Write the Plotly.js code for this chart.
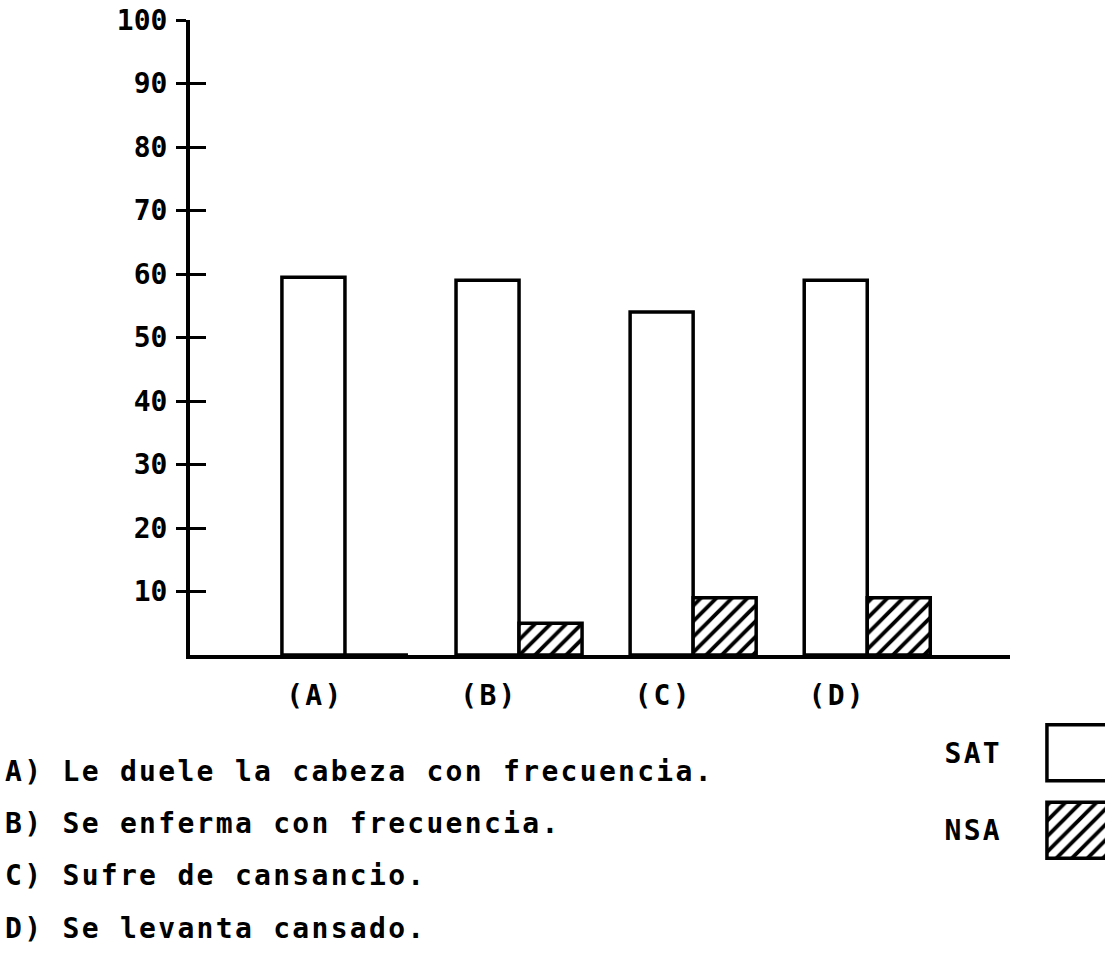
<!DOCTYPE html>
<html>
<head>
<meta charset="utf-8">
<script src="https://cdn.plot.ly/plotly-3.0.1.min.js"></script>
<style>
  html, body { margin: 0; padding: 0; background: #fff; }
  #chart { width: 1105px; height: 976px; }
  .annotation-text, .xtick text, .y3tick text { letter-spacing: 2.3px; }
  .ytick text { letter-spacing: 0px; }
</style>
</head>
<body>
<div id="chart"></div>
<script>
// ---- data ----
const categories = ['A', 'B', 'C', 'D'];
const categoryLabels = ['(A)', '(B)', '(C)', '(D)'];
const satValues = [59.5, 59, 54, 59];
const nsaValues = [0, 5, 9, 9];
const seriesNames = ['SAT', 'NSA'];
const descriptions = [
  'A) Le duele la cabeza con frecuencia.',
  'B) Se enferma con frecuencia.',
  'C) Sufre de cansancio.',
  'D) Se levanta cansado.'
];
const yTickVals = [10, 20, 30, 40, 50, 60, 70, 80, 90, 100];

// ---- styles ----
const FONT = 'DejaVu Sans Mono';
const fontBase = { family: FONT, size: 28, color: '#000', weight: 'bold' };
const outline = { color: '#000', width: 3.5 };

const traces = [
  {
    type: 'bar', name: seriesNames[0], x: categories, y: satValues,
    marker: { color: '#fff', line: outline },
    showlegend: false, hoverinfo: 'skip'
  },
  {
    type: 'bar', name: seriesNames[1], x: categories, y: nsaValues,
    marker: { color: '#fff', line: outline,
      pattern: { shape: '/', fgcolor: '#000', bgcolor: '#fff', size: 11, solidity: 0.35 } },
    showlegend: false, hoverinfo: 'skip'
  },
  // carrier for the inner half of the crossing y ticks
  { type: 'scatter', x: [], y: [], xaxis: 'x', yaxis: 'y2', showlegend: false, hoverinfo: 'skip' },
  // hand-made legend swatches
  {
    type: 'bar', orientation: 'h', y: seriesNames, x: [1, 1], xaxis: 'x3', yaxis: 'y3',
    marker: { color: '#fff', line: outline,
      pattern: { shape: ['', '/'], fgcolor: '#000', bgcolor: '#fff', size: 11, solidity: 0.35 } },
    showlegend: false, hoverinfo: 'skip'
  }
];

const W = 1105, H = 976, ML = 190, MR = 0, MT = 20, MB = 0;
const PW = W - ML - MR, PH = H - MT - MB;
const px2x = p => (p - ML) / PW;
const px2y = p => (H - MB - p) / PH;

const annotations = descriptions.map((t, i) => ({
  text: t, xref: 'paper', yref: 'paper',
  x: px2x(3), y: px2y([771, 823, 875, 928][i]),
  xanchor: 'left', yanchor: 'middle', showarrow: false, font: fontBase
}));

const layout = {
  width: W, height: H,
  margin: { l: ML, r: MR, t: MT, b: MB, pad: 0 },
  paper_bgcolor: '#fff', plot_bgcolor: '#fff',
  barmode: 'group', bargap: 0.276, bargroupgap: 0,
  showlegend: false,
  font: fontBase,
  xaxis: {
    domain: [0, px2x(1010)], anchor: 'y',
    type: 'category', range: [-0.89, 3.82],
    tickvals: categories, ticktext: categoryLabels,
    ticks: '', ticklabelshift: -30, ticklabelstandoff: 12,
    showline: true, linecolor: '#000', linewidth: 4,
    showgrid: false, zeroline: false, tickfont: fontBase, fixedrange: true
  },
  yaxis: {
    domain: [px2y(655), 1], anchor: 'x',
    range: [0, 100], tickvals: yTickVals,
    ticks: 'outside', ticklen: 10, tickwidth: 3, tickcolor: '#000',
    ticklabelstandoff: 3,
    showline: true, linecolor: '#000', linewidth: 4,
    showgrid: false, zeroline: false, tickfont: fontBase, fixedrange: true
  },
  yaxis2: {
    overlaying: 'y', anchor: 'x', side: 'left',
    range: [0, 100], tickvals: yTickVals,
    ticks: 'inside', ticklen: 16, tickwidth: 3, tickcolor: '#000',
    showticklabels: false, showline: false, showgrid: false, zeroline: false, fixedrange: true
  },
  xaxis3: {
    domain: [px2x(1045), 1], anchor: 'y3', range: [-0.03, 0.9],
    visible: false, fixedrange: true
  },
  yaxis3: {
    domain: [px2y(869), px2y(714)], anchor: 'x3',
    type: 'category', categoryorder: 'array', categoryarray: ['NSA', 'SAT'],
    range: [-0.5, 1.5],
    ticks: '', ticklabelstandoff: 42,
    showline: false, showgrid: false, zeroline: false, tickfont: fontBase, fixedrange: true
  },
  annotations: annotations
};

Plotly.newPlot('chart', traces, layout, { staticPlot: true, displayModeBar: false });
</script>
</body>
</html>
